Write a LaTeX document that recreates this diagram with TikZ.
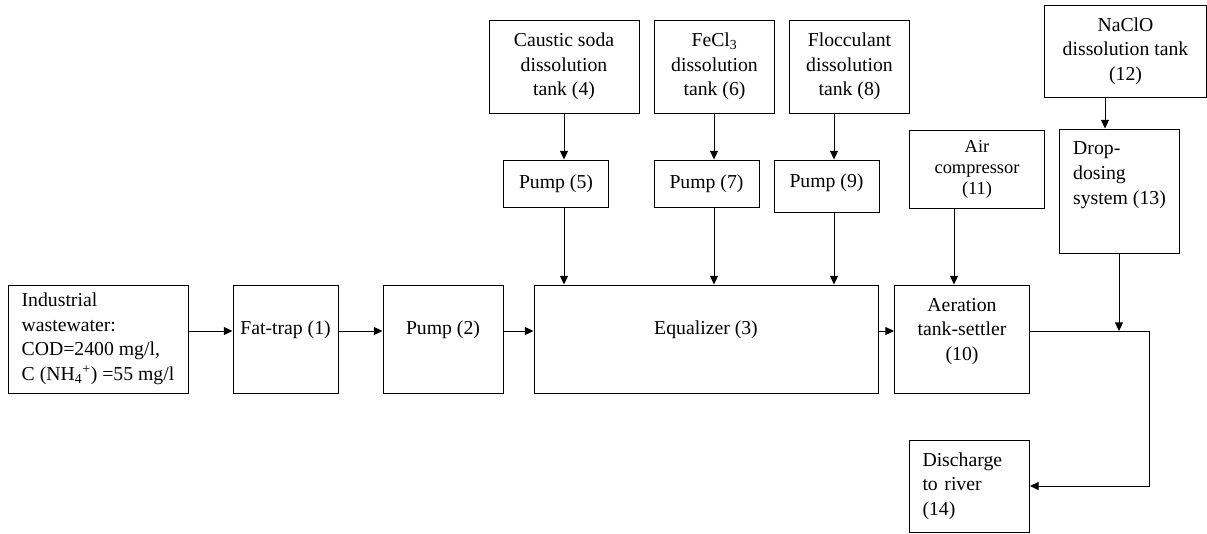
\documentclass[tikz,border=0pt]{standalone}
\usepackage{fontspec}
\setmainfont{Liberation Serif}
\usetikzlibrary{arrows.meta}

\tikzset{every picture/.style={line width=0.75pt}}
\tikzset{
	box/.style={draw, align=center, inner sep=2pt, font=\fontsize{14.8}{18.4}\selectfont},
	boxsize/.style 2 args={minimum width=#1*0.75pt, minimum height=#2*0.75pt},
	raised/.style={text depth=#1},
	flow/.style={-{Triangle[length=6.5pt,width=6pt]}}
}

\begin{document}
\begin{tikzpicture}[x=0.75pt,y=0.75pt,yscale=-1]
				\useasboundingbox (0,0) rectangle (1207,533);
				%Tanks [top row]
				\node[box, boxsize={150}{93}] (t4) at (564,66.5) {Caustic soda\\dissolution\\tank (4)};
				\node[box, boxsize={120}{93}] (t6) at (714.5,66.5) {FeCl\textsubscript{3}\\dissolution\\tank (6)};
				\node[box, boxsize={120}{93}] (t8) at (849.5,66.5) {Flocculant\\dissolution\\tank (8)};
				\node[box, boxsize={162}{92}] (t12) at (1125.5,51) {NaClO\\dissolution tank\\(12)};
				%Pumps and dosing
				\node[box, boxsize={105}{47}] (p5) at (556,183.5) {Pump (5)};
				\node[box, boxsize={105}{47}] (p7) at (706.5,183.5) {Pump (7)};
				\node[box, boxsize={105}{52}, raised=7.5pt] (p9) at (826.5,186) {Pump (9)};
				\node[box, boxsize={135}{78}, font=\fontsize{13.8}{15.8}\selectfont] (air) at (977,169.5) {Air\\compressor\\(11)};
				\node[box, boxsize={120}{124}, align=left, raised=27pt] (drop) at (1119.5,191) {Drop-\\dosing\\system (13)};
				%Main line
				\node[box, boxsize={180}{108}, align=left] (ind) at (98,339) {Industrial\\wastewater:\\COD=2400 mg/l,\\C (NH\textsubscript{4}\textsuperscript{+}) =55 mg/l};
				\node[box, boxsize={105}{108}, raised=16.5pt] (fat) at (285.5,339) {Fat-trap (1)};
				\node[box, boxsize={120}{108}, raised=16.5pt] (pump2) at (443,339) {Pump (2)};
				\node[box, boxsize={344}{108}, raised=16.5pt] (eq) at (706,339) {Equalizer (3)};
				\node[box, boxsize={135}{108}, raised=15pt] (aer) at (962,339) {Aeration\\tank-settler\\(10)};
				\node[box, boxsize={120}{92}, align=left, text width=70.5pt] (dis) at (969.5,486) {Discharge\\to river\\(14)};
				%Guide coordinates
				\coordinate (mid) at (0,331);
				\coordinate (v5) at (564,0);
				\coordinate (v6) at (714,0);
				\coordinate (v8) at (834,0);
				\coordinate (v11) at (954,0);
				\coordinate (v12) at (1105,0);
				\coordinate (v13) at (1119,0);
				\coordinate (turn) at (1149,0);
				%Horizontal flow
				\draw[flow] (ind.east |- mid) -- (fat.west |- mid);
				\draw[flow] (fat.east |- mid) -- (pump2.west |- mid);
				\draw[flow] (pump2.east |- mid) -- (eq.west |- mid);
				\draw[flow] (eq.east |- mid) -- (aer.west |- mid);
				%Dosing lines
				\draw[flow] (t4.south -| v5) -- (p5.north -| v5);
				\draw[flow] (p5.south -| v5) -- (eq.north -| v5);
				\draw[flow] (t6.south -| v6) -- (p7.north -| v6);
				\draw[flow] (p7.south -| v6) -- (eq.north -| v6);
				\draw[flow] (t8.south -| v8) -- (p9.north -| v8);
				\draw[flow] (p9.south -| v8) -- (eq.north -| v8);
				\draw[flow] (air.south -| v11) -- (aer.north -| v11);
				\draw[flow] (t12.south -| v12) -- (drop.north -| v12);
				\draw[flow] (drop.south -| v13) -- (v13 |- mid);
				%Outlet
				\draw[flow] (aer.east |- mid) -| (turn |- dis.east) -- (dis.east);
\end{tikzpicture}
\end{document}
